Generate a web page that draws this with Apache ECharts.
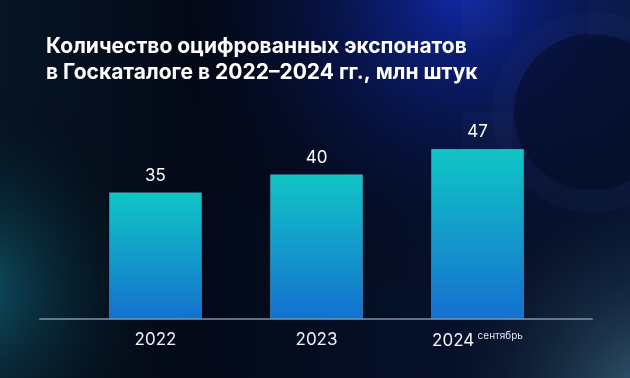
<!DOCTYPE html>
<html>
<head>
<meta charset="utf-8">
<script src="https://cdn.jsdelivr.net/npm/echarts@6/dist/echarts.min.js"></script>
<style>
html, body { margin: 0; padding: 0; background: #040b1a; }
#chart { width: 630px; height: 378px; }
</style>
</head>
<body>
<div id="chart"></div>
<script>
// данные
var years = ['2022', '2023', '2024'];
var values = [35, 40, 47];
var yearNotes = ['', '', 'сентябрь'];
var titleLines = ['Количество оцифрованных экспонатов', 'в Госкаталоге в 2022–2024 гг., млн штук'];

var myChart = echarts.init(document.getElementById('chart'));

function glow(cx, cy, r, color) {
	return {
		type: 'circle',
		silent: true,
		z: -10,
		shape: { cx: cx, cy: cy, r: r },
		style: {
			fill: new echarts.graphic.RadialGradient(0.5, 0.5, 0.5, [
				{ offset: 0, color: color },
				{ offset: 1, color: 'rgba(0,0,0,0)' }
			])
		}
	};
}
// бледные блоки фоновой цифры
function block(x, y, w, h) {
	return {
		type: 'rect',
		silent: true,
		z: -9,
		shape: { x: x, y: y, width: w, height: h },
		style: { fill: 'rgba(120,140,200,0.035)' }
	};
}

var option = {
	backgroundColor: new echarts.graphic.LinearGradient(0, 0, 1, 0, [
		{ offset: 0, color: '#071526' },
		{ offset: 0.3, color: '#030917' },
		{ offset: 1, color: '#071638' }
	]),
	title: {
		text: titleLines.join('\n'),
		left: 41,
		top: 29,
		textStyle: {
			color: '#ffffff',
			fontFamily: 'Inter',
			fontWeight: 'bold',
			fontSize: 21,
			lineHeight: 26
		}
	},
	graphic: [
		glow(460, -10, 310, 'rgba(18,45,190,0.85)'),
		glow(-30, 290, 210, 'rgba(18,105,125,0.8)'),
		glow(650, 400, 240, 'rgba(70,120,140,0.75)'),
		{
			type: 'circle',
			silent: true,
			z: -9,
			shape: { cx: 592, cy: 112, r: 100 },
			style: { fill: 'rgba(80,100,150,0.06)' }
		},
		{
			type: 'circle',
			silent: true,
			z: -9,
			shape: { cx: 592, cy: 112, r: 78 },
			style: { fill: 'rgba(2,8,30,0.5)' }
		},
		block(462, 0, 50, 37),
		block(588, 0, 42, 37),
		block(462, 112, 50, 40)
	],
	grid: [
		{ left: 40, right: 38, top: 138, bottom: 59 },
		{ left: 75, right: 72, top: 138, bottom: 59 }
	],
	xAxis: [
		{
			gridIndex: 0,
			type: 'category',
			data: years,
			axisLine: { lineStyle: { color: 'rgba(140,155,175,0.7)', width: 2 } },
			axisTick: { show: false },
			axisLabel: { show: false }
		},
		{
			gridIndex: 1,
			type: 'category',
			data: years,
			axisLine: { show: false },
			axisTick: { show: false },
			axisLabel: {
				margin: 12,
				formatter: function (val, idx) {
					var note = yearNotes[idx];
					return note ? '{y|' + val + '} {n|' + note + '}' : '{y|' + val + '}';
				},
				rich: {
					y: { color: '#eef3f8', fontFamily: 'Inter', fontSize: 17 },
					n: { color: '#dfe7ef', fontFamily: 'Inter', fontSize: 10, padding: [0, 0, 9, 0] }
				}
			}
		}
	],
	yAxis: [
		{ gridIndex: 0, type: 'value', min: 0, max: 50, show: false },
		{ gridIndex: 1, type: 'value', min: 0, max: 50, show: false }
	],
	series: [
		{
			type: 'bar',
			xAxisIndex: 1,
			yAxisIndex: 1,
			barWidth: 93,
			data: values,
			itemStyle: {
				color: new echarts.graphic.LinearGradient(0, 0, 0, 1, [
					{ offset: 0, color: '#10c6c6' },
					{ offset: 1, color: '#1570cf' }
				]),
				borderColor: 'rgba(120,200,230,0.35)',
				borderWidth: 1
			},
			label: {
				show: true,
				position: 'top',
				distance: 8,
				color: '#ffffff',
				fontFamily: 'Inter',
				fontSize: 17
			}
		}
	]
};
myChart.setOption(option);
</script>
</body>
</html>
